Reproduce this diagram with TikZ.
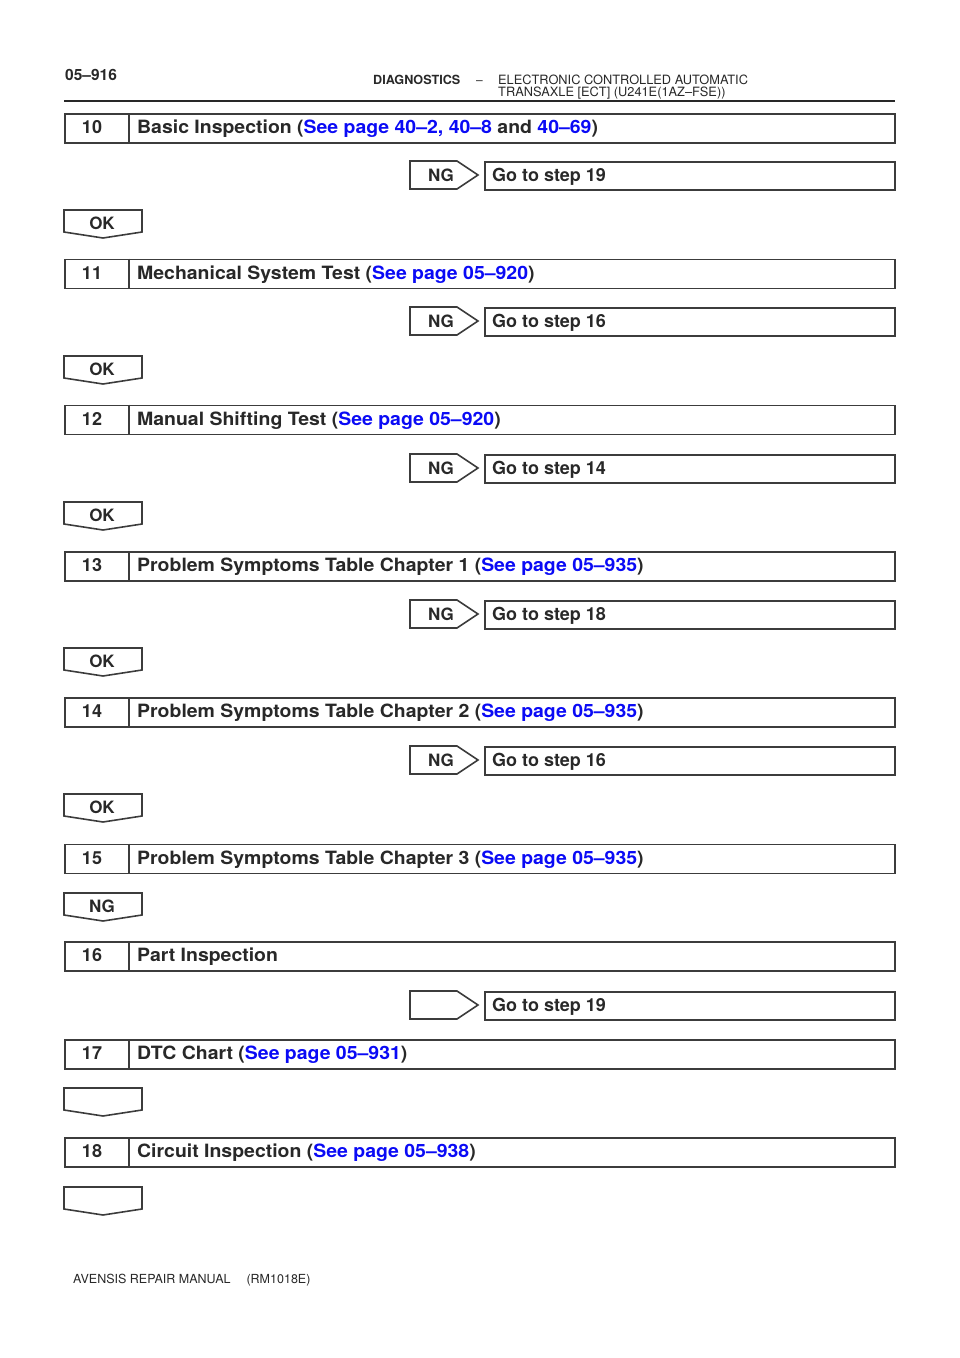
\documentclass[tikz,border=0pt]{standalone}
\usepackage{fontspec}
\setmainfont{TeX Gyre Heros}
\newfontfamily\titlefont[FakeStretch=1.063,Ligatures=TeX]{TeX Gyre Heros}
\definecolor{lnk}{RGB}{10,10,245}
\definecolor{ink}{RGB}{40,40,40}
\definecolor{edge}{RGB}{60,60,60}
\newcommand{\lk}[1]{\textcolor{lnk}{#1}}
\tikzset{
  boxline/.style={draw=edge, line width=1.6pt},
  ttl/.style={anchor=base west, inner sep=0pt, font=\titlefont\fontsize{18.3}{18}\selectfont\bfseries, text=ink},
  gol/.style={anchor=base west, inner sep=0pt, font=\fontsize{18}{18}\selectfont\bfseries, text=ink},
  num/.style={anchor=base, inner sep=0pt, font=\fontsize{18}{18}\selectfont\bfseries, text=ink},
  lbl/.style={anchor=base, inner sep=0pt, font=\fontsize{17}{17}\selectfont\bfseries, text=ink},
  hdr/.style={anchor=base west, inner sep=0pt, text=ink},
}
% step box: #1 name, #2 top y, #3 number, #4 title
\newcommand{\mystep}[4]{%
  \node[boxline, minimum width=830pt, minimum height=29pt, inner sep=0pt, anchor=north west] (#1) at (64,#2) {};
  \draw[boxline] (129,#2) -- (129,#2+29);
  \node[num] (#1n) at (92,#2+20.5) {#3};
  \node[ttl] (#1t) at (137,#2+20.5) {#4};
}
% right NG arrow + go to box: #1 name, #2 top y, #3 label, #4 text
\newcommand{\mygorow}[4]{%
  \draw[boxline, line join=miter] (410,#2) -- (457,#2) -- (478,#2+14) -- (457,#2+28) -- (410,#2+28) -- cycle;
  \node[lbl] (#1a) at (441,#2+20.5) {#3};
  \node[boxline, minimum width=410pt, minimum height=28pt, inner sep=0pt, anchor=north west] (#1) at (484,#2) {};
  \node[gol] (#1t) at (492,#2+20.5) {#4};
}
% down arrow: #1 name, #2 top y, #3 label
\newcommand{\mydown}[3]{%
  \draw[boxline, line join=miter] (64,#2) -- (142,#2) -- (142,#2+22) -- (103,#2+28) -- (64,#2+22) -- cycle;
  \node[lbl] (#1) at (102,#2+19.5) {#3};
}
\begin{document}
\begin{tikzpicture}[x=1pt,y=-1pt]
\useasboundingbox (0,0) rectangle (960,1358);
% header
\node[hdr, font=\fontsize{15.5}{15.5}\selectfont\bfseries] (pg) at (65,80) {05--916};
\node[hdr, font=\fontsize{12.6}{12.6}\selectfont\bfseries] (dg) at (373,84.5) {DIAGNOSTICS};
\node[hdr, font=\fontsize{12}{12}\selectfont] (dash) at (476,84.5) {--};
\node[hdr, font=\fontsize{12.8}{12.8}\selectfont] (h1) at (498,84.5) {ELECTRONIC CONTROLLED AUTOMATIC};
\node[hdr, font=\fontsize{12.8}{12.8}\selectfont] (h2) at (498,96.5) {TRANSAXLE [ECT] (U241E(1AZ--FSE))};
\draw[draw=ink, line width=2pt] (64,101) -- (895,101);

\mystep{s10}{113}{10}{Basic Inspection (\lk{See page 40--2, 40--8} and \lk{40--69})}
\mygorow{g10}{161}{NG}{Go to step 19}
\mydown{o10}{210}{OK}

\mystep{s11}{258.5}{11}{Mechanical System Test (\lk{See page 05--920})}
\mygorow{g11}{307}{NG}{Go to step 16}
\mydown{o11}{356}{OK}

\mystep{s12}{404.5}{12}{Manual Shifting Test (\lk{See page 05--920})}
\mygorow{g12}{454}{NG}{Go to step 14}
\mydown{o12}{502}{OK}

\mystep{s13}{551}{13}{Problem Symptoms Table Chapter 1 (\lk{See page 05--935})}
\mygorow{g13}{600}{NG}{Go to step 18}
\mydown{o13}{648}{OK}

\mystep{s14}{697}{14}{Problem Symptoms Table Chapter 2 (\lk{See page 05--935})}
\mygorow{g14}{746}{NG}{Go to step 16}
\mydown{o14}{794}{OK}

\mystep{s15}{843.5}{15}{Problem Symptoms Table Chapter 3 (\lk{See page 05--935})}
\mydown{o15}{893}{NG}

\mystep{s16}{941}{16}{Part Inspection}
\mygorow{g16}{991}{}{Go to step 19}

\mystep{s17}{1039}{17}{DTC Chart (\lk{See page 05--931})}
\mydown{o17}{1088}{}

\mystep{s18}{1137}{18}{Circuit Inspection (\lk{See page 05--938})}
\mydown{o18}{1187}{}

% footer
\node[hdr, font=\fontsize{12.5}{12.5}\selectfont] (ft) at (73,1283) {AVENSIS REPAIR MANUAL\quad\ (RM1018E)};
\end{tikzpicture}
\end{document}
